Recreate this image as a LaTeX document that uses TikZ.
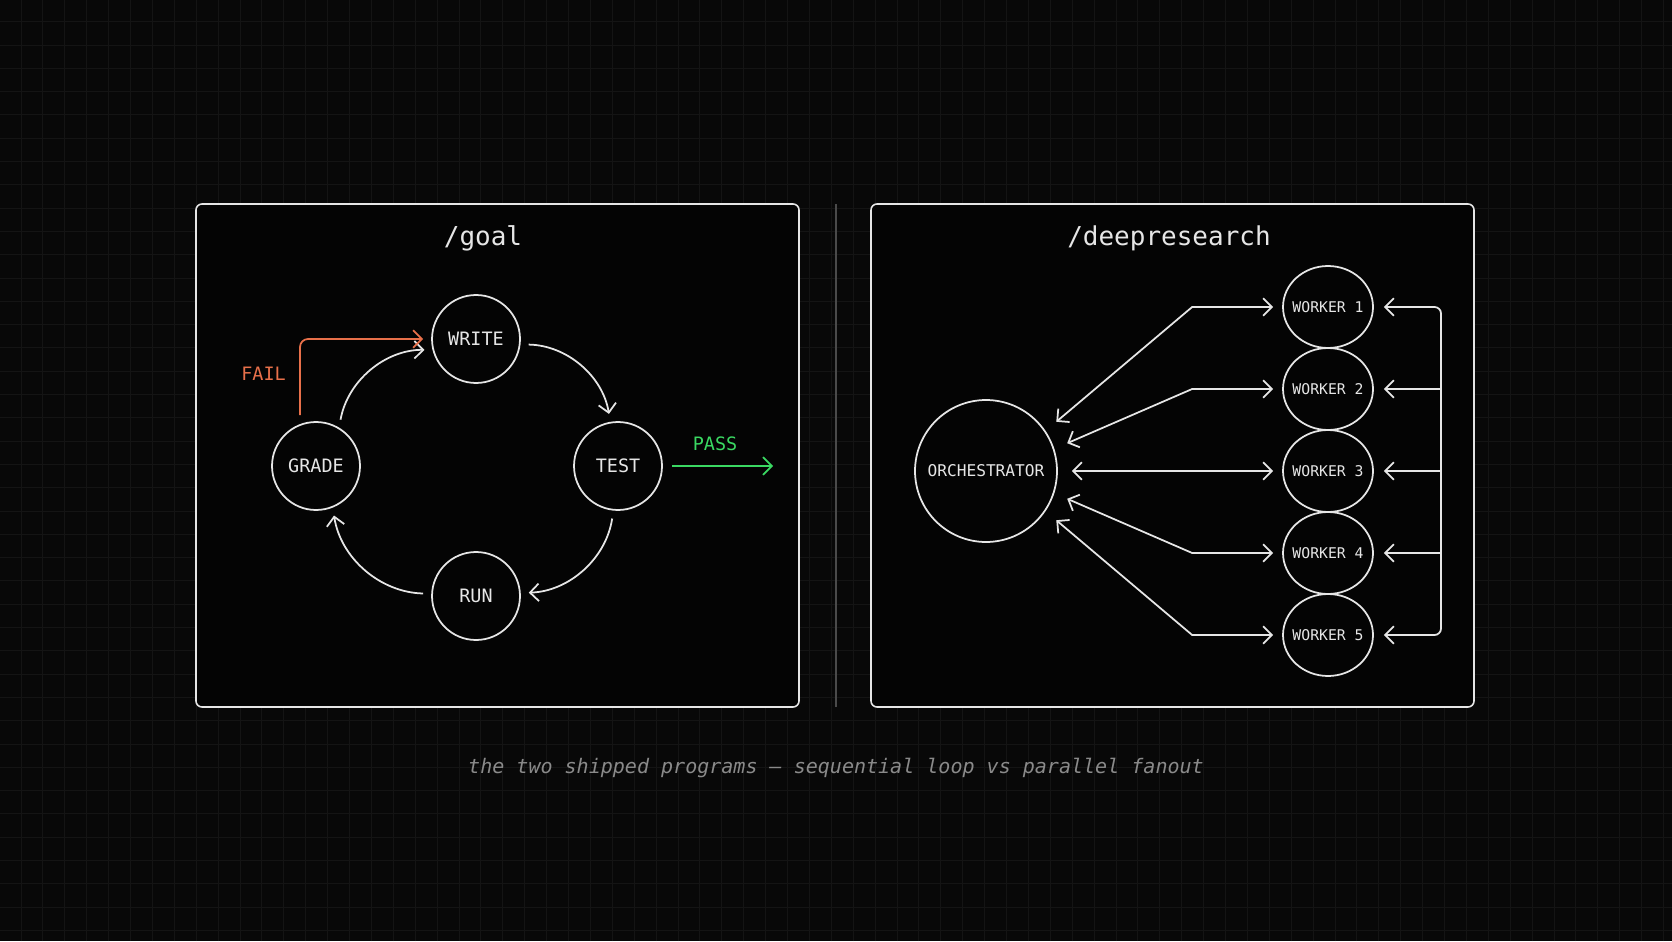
\documentclass[tikz,border=0pt]{standalone}
\usepackage{fontspec}
\setmonofont{DejaVu Sans Mono}
\usepackage{xcolor}
\usetikzlibrary{calc,arrows.meta,positioning,shapes.geometric}
\definecolor{bgBlack}{HTML}{080808}
\definecolor{gridGray}{HTML}{141414}
\definecolor{panelBlack}{HTML}{040404}
\definecolor{lineWhite}{HTML}{E6E6E6}
\definecolor{dividerGray}{HTML}{4A4A4A}
\definecolor{failOrange}{HTML}{E8704A}
\definecolor{passGreen}{HTML}{3AD862}
\definecolor{captionGray}{HTML}{8A8A8A}

\begin{document}
\begin{tikzpicture}[x=0.02cm,y=0.02cm,
    panel/.style={draw=lineWhite, fill=panelBlack, line width=0.9pt, rounded corners=0.12cm},
    stepnode/.style={circle, draw=lineWhite, line width=1pt, minimum size=1.76cm, inner sep=0pt,
        text=lineWhite, font=\ttfamily\fontsize{10.5}{12}\selectfont},
    orchnode/.style={circle, draw=lineWhite, line width=1pt, minimum size=2.84cm, inner sep=0pt,
        text=lineWhite, font=\ttfamily\fontsize{9.2}{11}\selectfont},
    workernode/.style={ellipse, draw=lineWhite, line width=1pt, minimum width=1.8cm,
        minimum height=1.64cm, inner xsep=-0.1cm, inner ysep=0pt, text=lineWhite,
        font=\ttfamily\fontsize{8.4}{10}\selectfont},
    titletext/.style={text=lineWhite, font=\ttfamily\fontsize{14.8}{17}\selectfont, anchor=base},
    wire/.style={draw=lineWhite, line width=1pt, -{Straight Barb[length=5pt,width=10pt]}},
    fanwire/.style={wire, {Straight Barb[length=5pt,width=10pt]}-{Straight Barb[length=5pt,width=10pt]},
        shorten <=0.28cm, shorten >=0.18cm},
    loopwire/.style={wire, shorten <=0.16cm, shorten >=0.16cm},
    failwire/.style={wire, draw=failOrange, rounded corners=0.16cm, shorten <=0.12cm, shorten >=0.16cm},
    passwire/.style={wire, draw=passGreen, shorten <=0.18cm},
    faillabel/.style={text=failOrange, font=\ttfamily\fontsize{10.5}{12}\selectfont},
    passlabel/.style={text=passGreen, font=\ttfamily\fontsize{10.5}{12}\selectfont}]

    % background and faint grid
    \fill[bgBlack] (0,0) rectangle (1672,941);
    \useasboundingbox (0,0) rectangle (1672,941);
    \foreach \k in {0,...,75}
        \draw[gridGray, line width=0.5pt] ({21+21.9*\k},0) -- ++(0,941);
    \foreach \k in {0,...,39}
        \draw[gridGray, line width=0.5pt] (0,{919.3-23.3*\k}) -- ++(1672,0);

    % the two panels and the divider
    \draw[panel] (196,234) rectangle (799,737);
    \draw[panel] (871,234) rectangle (1474,737);
    \draw[dividerGray, line width=0.6pt] (836,234) -- (836,737);

    \node[titletext] (goaltitle) at (483,695) {/goal};
    \node[titletext] (deeptitle) at (1169,695) {/deepresearch};

    % sequential loop
    \node[stepnode] (write) at (476,602) {WRITE};
    \node[stepnode] (test) at (618,475) {TEST};
    \node[stepnode] (run) at (476,345) {RUN};
    \node[stepnode] (grade) at (316,475) {GRADE};

    \draw[loopwire] (write.-7) to[bend left=40] (test.100);
    \draw[loopwire] (test.-96) to[bend left=40] (run.4);
    \draw[loopwire] (run.177) to[bend left=40] (grade.-68);
    \draw[loopwire] (grade.59) to[bend left=40] (write.194);

    % fail goes back to write, pass leaves the loop
    \draw[failwire] ([xshift=-0.32cm]grade.north) |- (write.west);
    \node[faillabel] (fail) at (263.5,567) {FAIL};

    \coordinate (passend) at (773,475);
    \draw[passwire] (test.east) -- (passend);
    \node[passlabel] (pass) at (715,497.5) {PASS};

    % parallel fanout
    \node[orchnode] (orch) at (986,470) {ORCHESTRATOR};
    \foreach \i in {1,...,5}
        \node[workernode] (w\i) at (1328,{716-82*\i}) {WORKER \i};

    \foreach \i/\a in {1/34,2/18,3/0,4/-18,5/-34}
        \draw[fanwire] (orch.\a) -- ([xshift=-1.8cm]w\i.west) -- (w\i.west);

    % return bus on the right
    \coordinate (bustop) at (1441,634);
    \coordinate (busbot) at (1441,306);
    \draw[wire, {Straight Barb[length=5pt,width=10pt]}-{Straight Barb[length=5pt,width=10pt]},
        rounded corners=0.13cm, shorten <=0.2cm, shorten >=0.2cm]
        (w1.east) -- (bustop) -- (busbot) -- (w5.east);
    \foreach \i in {2,3,4}
        \draw[wire, shorten >=0.2cm] (bustop |- w\i.east) -- (w\i.east);

    % caption
    \node[text=captionGray, font=\ttfamily\itshape\fontsize{11.4}{13}\selectfont, anchor=base]
        (caption) at (836,168) {the two shipped programs – sequential loop vs parallel fanout};
\end{tikzpicture}
\end{document}
